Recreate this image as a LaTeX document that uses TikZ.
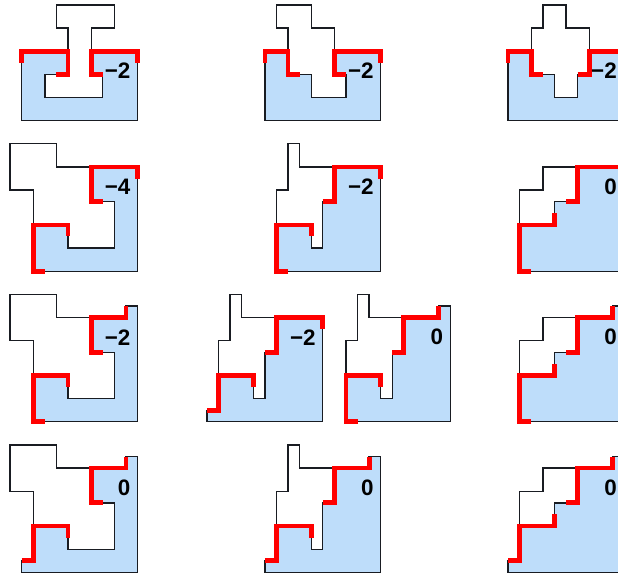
\documentclass[tikz,border=0pt]{standalone}
\usepackage{fontspec}
\setsansfont{Liberation Sans}
\usepackage{xcolor}
\usepackage{tikz}
\definecolor{paleblue}{RGB}{190,221,250}
\definecolor{cutred}{RGB}{255,0,0}
\definecolor{outline}{RGB}{25,28,34}

\begin{document}
\begin{tikzpicture}[
		x=0.4cm,
		y=0.4cm,
		font=\sffamily,
		region/.style={
			fill=paleblue,
			draw=outline,
			line width=1.3pt,
			line join=miter
		},
		piece/.style={draw=outline, line width=1.3pt, line join=miter},
		cut/.style={draw=cutred, line width=4.7pt, line join=miter, line cap=butt},
		score/.style={anchor=east, inner sep=0pt, text=black,
			font=\sffamily\bfseries\fontsize{22}{25}\selectfont}
	]
	
	% Canvas
	\path[use as bounding box] (-1.874,-0.406) rectangle (51.49,49.42);
	\clip (-1.874,-0.406) rectangle (51.49,49.42);
	
	% Row 1
	\begin{scope}[shift={(0,39)}]
		\path[region] (0,0) -- (10,0) -- (10,6) -- (6,6) -- (6,4) -- (7,4) -- (7,2) -- (2,2) -- (2,4) -- (4,4) -- (4,6) -- (0,6) -- cycle;
		\draw[piece] (3,10) -- (8,10) -- (8,8) -- (6,8) -- (6,4) -- (7,4) -- (7,2) -- (2,2) -- (2,4) -- (4,4) -- (4,8) -- (3,8) -- cycle;
		\draw[cut] (0,5) -- (0,6) -- (4,6) -- (4,4) -- (3,4);
		\draw[cut] (7,4) -- (6,4) -- (6,6) -- (10,6) -- (10,5);
		\node[score] (s11) at (9.4,4.3) {−2};
	\end{scope}
	
	\begin{scope}[shift={(21,39)}]
		\path[region] (0,0) -- (10,0) -- (10,6) -- (6,6) -- (6,4) -- (7,4) -- (7,2) -- (4,2) -- (4,4) -- (2,4) -- (2,6) -- (0,6) -- cycle;
		\draw[piece] (1,10) -- (4,10) -- (4,8) -- (6,8) -- (6,4) -- (7,4) -- (7,2) -- (4,2) -- (4,4) -- (2,4) -- (2,8) -- (1,8) -- cycle;
		\draw[cut] (0,5) -- (0,6) -- (2,6) -- (2,4) -- (3,4);
		\draw[cut] (7,4) -- (6,4) -- (6,6) -- (10,6) -- (10,5);
		\node[score] (s12) at (9.4,4.3) {−2};
	\end{scope}
	
	\begin{scope}[shift={(42,39)}]
		\path[region] (0,0) -- (10,0) -- (10,6) -- (7,6) -- (7,4) -- (6,4) -- (6,2) -- (4,2) -- (4,4) -- (2,4) -- (2,6) -- (0,6) -- cycle;
		\draw[piece] (3,10) -- (5,10) -- (5,8) -- (7,8) -- (7,4) -- (6,4) -- (6,2) -- (4,2) -- (4,4) -- (2,4) -- (2,8) -- (3,8) -- cycle;
		\draw[cut] (0,5) -- (0,6) -- (2,6) -- (2,4) -- (3,4);
		\draw[cut] (6,4) -- (7,4) -- (7,6) -- (10,6) -- (10,5);
		\node[score] (s13) at (9.4,4.3) {−2};
	\end{scope}
	
	% Row 2
	\begin{scope}[shift={(0,26)}]
		\path[region] (1,0) -- (10,0) -- (10,9) -- (6,9) -- (6,6) -- (8,6) -- (8,2) -- (4,2) -- (4,4) -- (1,4) -- cycle;
		\draw[piece] (-1,11) -- (3,11) -- (3,9) -- (6,9) -- (6,6) -- (8,6) -- (8,2) -- (4,2) -- (4,4) -- (1,4) -- (1,7) -- (-1,7) -- cycle;
		\draw[cut] (2,0) -- (1,0) -- (1,4) -- (4,4) -- (4,3);
		\draw[cut] (7,6) -- (6,6) -- (6,9) -- (10,9) -- (10,8);
		\node[score] (s21) at (9.4,7.3) {−4};
	\end{scope}
	
	\begin{scope}[shift={(21,26)}]
		\path[region] (1,0) -- (10,0) -- (10,9) -- (6,9) -- (6,6) -- (5,6) -- (5,2) -- (4,2) -- (4,4) -- (1,4) -- cycle;
		\draw[piece] (2,11) -- (3,11) -- (3,9) -- (6,9) -- (6,6) -- (5,6) -- (5,2) -- (4,2) -- (4,4) -- (1,4) -- (1,7) -- (2,7) -- cycle;
		\draw[cut] (2,0) -- (1,0) -- (1,4) -- (4,4) -- (4,3);
		\draw[cut] (5,6) -- (6,6) -- (6,9) -- (10,9) -- (10,8);
		\node[score] (s22) at (9.4,7.3) {−2};
	\end{scope}
	
	\begin{scope}[shift={(42,26)}]
		\path[region] (1,0) -- (10,0) -- (10,9) -- (6,9) -- (6,6) -- (4,6) -- (4,4) -- (1,4) -- cycle;
		\draw[piece] (1,4) -- (1,7) -- (3,7) -- (3,9) -- (6,9) -- (6,6) -- (4,6) -- (4,4) -- cycle;
		\draw[cut] (2,0) -- (1,0) -- (1,4) -- (4,4) -- (4,5);
		\draw[cut] (5,6) -- (6,6) -- (6,9) -- (10,9) -- (10,8);
		\node[score] (s23) at (9.4,7.3) {0};
	\end{scope}
	
	% Row 3
	\begin{scope}[shift={(0,13)}]
		\path[region] (1,0) -- (10,0) -- (10,10) -- (9,10) -- (9,9) -- (6,9) -- (6,6) -- (8,6) -- (8,2) -- (4,2) -- (4,4) -- (1,4) -- cycle;
		\draw[piece] (-1,11) -- (3,11) -- (3,9) -- (6,9) -- (6,6) -- (8,6) -- (8,2) -- (4,2) -- (4,4) -- (1,4) -- (1,7) -- (-1,7) -- cycle;
		\draw[cut] (2,0) -- (1,0) -- (1,4) -- (4,4) -- (4,3);
		\draw[cut] (7,6) -- (6,6) -- (6,9) -- (9,9) -- (9,10);
		\node[score] (s31) at (9.4,7.3) {−2};
	\end{scope}
	
	\begin{scope}[shift={(16,13)}]
		\path[region] (0,0) -- (10,0) -- (10,9) -- (6,9) -- (6,6) -- (5,6) -- (5,2) -- (4,2) -- (4,4) -- (1,4) -- (1,1) -- (0,1) -- cycle;
		\draw[piece] (2,11) -- (3,11) -- (3,9) -- (6,9) -- (6,6) -- (5,6) -- (5,2) -- (4,2) -- (4,4) -- (1,4) -- (1,7) -- (2,7) -- cycle;
		\draw[cut] (0,1) -- (1,1) -- (1,4) -- (4,4) -- (4,3);
		\draw[cut] (5,6) -- (6,6) -- (6,9) -- (10,9) -- (10,8);
		\node[score] (s32) at (9.4,7.3) {−2};
	\end{scope}
	
	\begin{scope}[shift={(27,13)}]
		\path[region] (1,0) -- (10,0) -- (10,10) -- (9,10) -- (9,9) -- (6,9) -- (6,6) -- (5,6) -- (5,2) -- (4,2) -- (4,4) -- (1,4) -- cycle;
		\draw[piece] (2,11) -- (3,11) -- (3,9) -- (6,9) -- (6,6) -- (5,6) -- (5,2) -- (4,2) -- (4,4) -- (1,4) -- (1,7) -- (2,7) -- cycle;
		\draw[cut] (2,0) -- (1,0) -- (1,4) -- (4,4) -- (4,3);
		\draw[cut] (5,6) -- (6,6) -- (6,9) -- (9,9) -- (9,10);
		\node[score] (s33) at (9.4,7.3) {0};
	\end{scope}
	
	\begin{scope}[shift={(42,13)}]
		\path[region] (1,0) -- (10,0) -- (10,10) -- (9,10) -- (9,9) -- (6,9) -- (6,6) -- (4,6) -- (4,4) -- (1,4) -- cycle;
		\draw[piece] (1,4) -- (1,7) -- (3,7) -- (3,9) -- (6,9) -- (6,6) -- (4,6) -- (4,4) -- cycle;
		\draw[cut] (2,0) -- (1,0) -- (1,4) -- (4,4) -- (4,5);
		\draw[cut] (5,6) -- (6,6) -- (6,9) -- (9,9) -- (9,10);
		\node[score] (s34) at (9.4,7.3) {0};
	\end{scope}
	
	% Row 4
	\begin{scope}[shift={(0,0)}]
		\path[region] (0,0) -- (10,0) -- (10,10) -- (9,10) -- (9,9) -- (6,9) -- (6,6) -- (8,6) -- (8,2) -- (4,2) -- (4,4) -- (1,4) -- (1,1) -- (0,1) -- cycle;
		\draw[piece] (-1,11) -- (3,11) -- (3,9) -- (6,9) -- (6,6) -- (8,6) -- (8,2) -- (4,2) -- (4,4) -- (1,4) -- (1,7) -- (-1,7) -- cycle;
		\draw[cut] (0,1) -- (1,1) -- (1,4) -- (4,4) -- (4,3);
		\draw[cut] (7,6) -- (6,6) -- (6,9) -- (9,9) -- (9,10);
		\node[score] (s41) at (9.4,7.3) {0};
	\end{scope}
	
	\begin{scope}[shift={(21,0)}]
		\path[region] (0,0) -- (10,0) -- (10,10) -- (9,10) -- (9,9) -- (6,9) -- (6,6) -- (5,6) -- (5,2) -- (4,2) -- (4,4) -- (1,4) -- (1,1) -- (0,1) -- cycle;
		\draw[piece] (2,11) -- (3,11) -- (3,9) -- (6,9) -- (6,6) -- (5,6) -- (5,2) -- (4,2) -- (4,4) -- (1,4) -- (1,7) -- (2,7) -- cycle;
		\draw[cut] (0,1) -- (1,1) -- (1,4) -- (4,4) -- (4,3);
		\draw[cut] (5,6) -- (6,6) -- (6,9) -- (9,9) -- (9,10);
		\node[score] (s42) at (9.4,7.3) {0};
	\end{scope}
	
	\begin{scope}[shift={(42,0)}]
		\path[region] (0,0) -- (10,0) -- (10,10) -- (9,10) -- (9,9) -- (6,9) -- (6,6) -- (4,6) -- (4,4) -- (1,4) -- (1,1) -- (0,1) -- cycle;
		\draw[piece] (1,4) -- (1,7) -- (3,7) -- (3,9) -- (6,9) -- (6,6) -- (4,6) -- (4,4) -- cycle;
		\draw[cut] (0,1) -- (1,1) -- (1,4) -- (4,4) -- (4,5);
		\draw[cut] (5,6) -- (6,6) -- (6,9) -- (9,9) -- (9,10);
		\node[score] (s43) at (9.4,7.3) {0};
	\end{scope}
	
\end{tikzpicture}
\end{document}
